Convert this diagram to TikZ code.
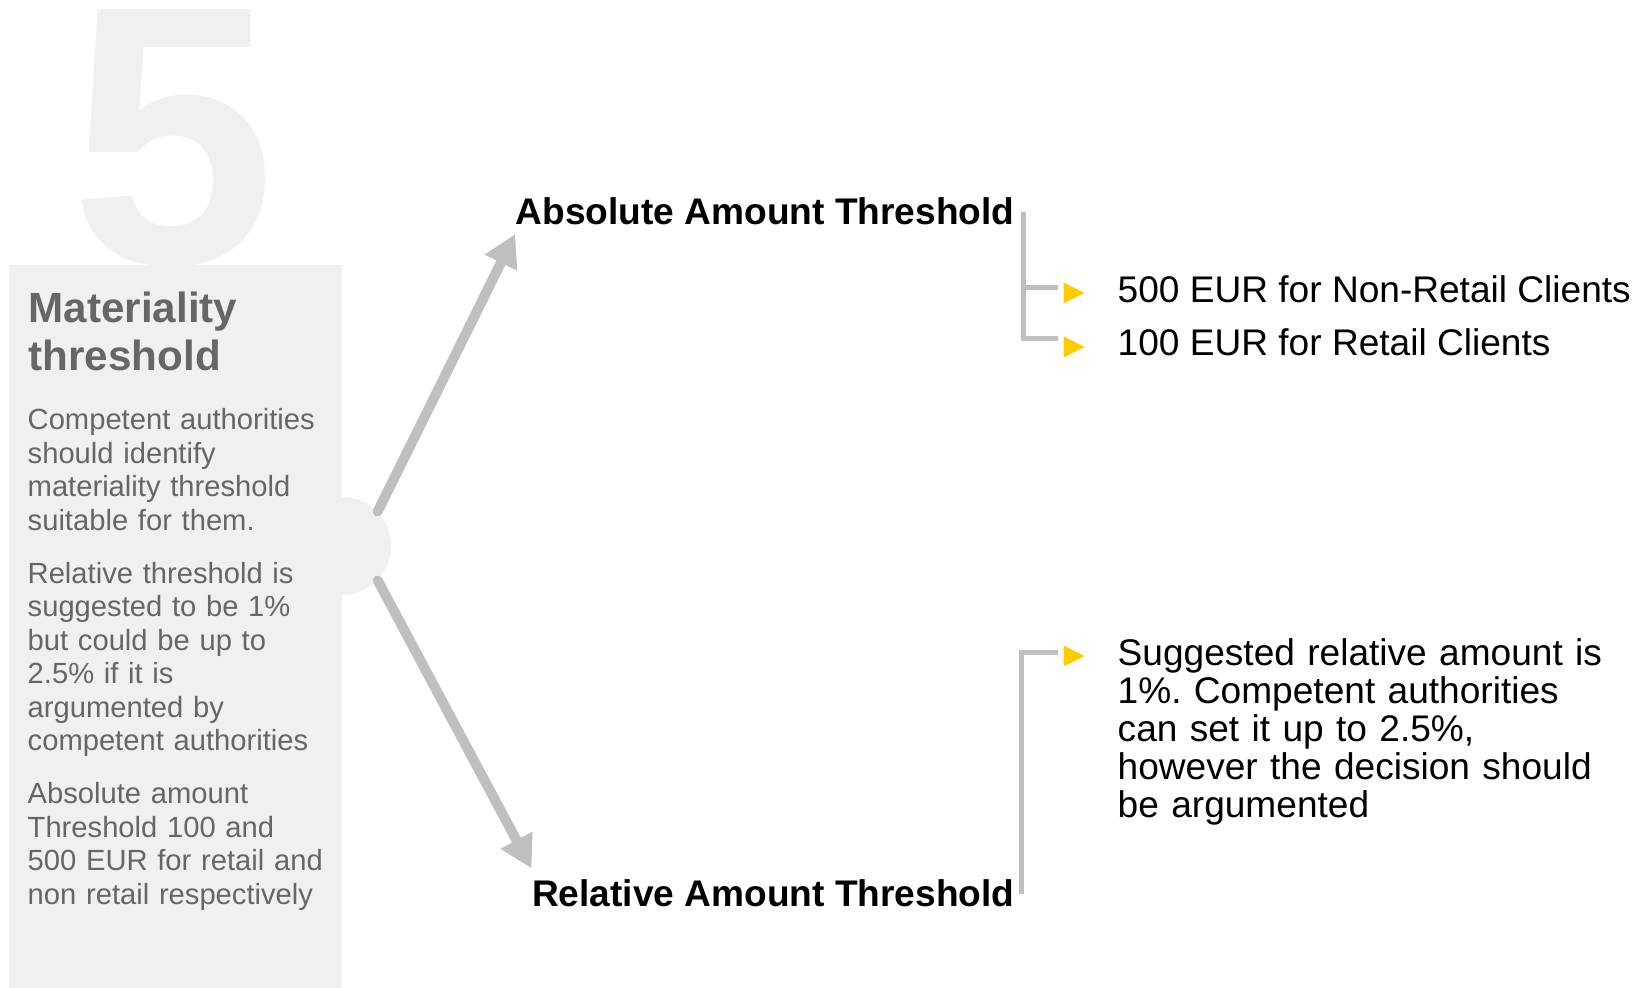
\documentclass[tikz,border=0pt]{standalone}
\usepackage{fontspec}
\setmainfont{Liberation Sans}
\usetikzlibrary{arrows.meta,shapes.geometric}
\definecolor{panelgray}{RGB}{240,240,240}
\definecolor{textgray}{RGB}{102,102,102}
\definecolor{linegray}{RGB}{191,191,191}
\definecolor{pointyellow}{RGB}{255,204,0}
\frenchspacing

\begin{document}
\begin{tikzpicture}[
  heading/.style={inner sep=0pt, font=\fontsize{10.55}{12.6}\selectfont\bfseries},
  item/.style={inner sep=0pt, anchor=base west, font=\fontsize{10.55}{10.8}\selectfont},
  pointer/.style={isosceles triangle, isosceles triangle stretches, fill=pointyellow,
        minimum width=0.21cm, minimum height=0.21cm, inner sep=0pt},
  link/.style={linegray, line width=0.05cm}]
  \useasboundingbox (0,0) rectangle (16.43,9.88);
  % Big number
  \node[anchor=north, inner sep=0pt, text=panelgray,
        font=\fontsize{105}{105}\selectfont\bfseries] (num) at (1.73,9.79) {5};
  % Side panel
  \fill[panelgray] (0.09,0) rectangle (3.42,7.23);
  \node[circle, fill=panelgray, minimum size=0.98cm, inner sep=0pt] (hub) at (3.42,4.42) {};
  \node[anchor=base west, inner sep=0pt, text width=3.2cm, align=left, text=textgray,
        font=\fontsize{12}{13.6}\selectfont\bfseries] (title) at (0.28,6.65) {Materiality\\threshold};
  \node[anchor=base west, inner sep=0pt, text width=3.3cm, align=left, text=textgray,
        font=\fontsize{8.3}{9.5}\selectfont] (notes) at (0.27,5.58)
        {Competent authorities\\should identify\\materiality threshold\\suitable for them.\\[0.2cm]
         Relative threshold is\\suggested to be 1\%\\but could be up to\\2.5\% if it is\\argumented by\\competent authorities\\[0.2cm]
         Absolute amount\\Threshold 100 and\\500 EUR for retail and\\non retail respectively};
  % Branch headings
  \node[heading, anchor=base east] (abs) at (10.15,7.63) {Absolute Amount Threshold};
  \node[heading, anchor=base east] (rel) at (10.15,0.81) {Relative Amount Threshold};
  % Arrows
  \draw[linegray, line width=0.1cm, line cap=round, -{Triangle[length=0.32cm,width=0.34cm]}]
    (hub.44) -- ([yshift=-0.08cm]abs.south west);
  \draw[linegray, line width=0.1cm, line cap=round, -{Triangle[length=0.32cm,width=0.34cm]}]
    (hub.-44) -- ([yshift=0.11cm]rel.north west);
  % Pointers
  \node[pointer] (p1) at (10.70,6.95) {};
  \node[pointer] (p2) at (10.70,6.41) {};
  \node[pointer] (p3) at (10.70,3.32) {};
  \coordinate (absrail) at ([xshift=0.08cm]abs.east);
  \draw[link] (absrail) |- ([xshift=-0.05cm,yshift=0.08cm]p2.west);
  \draw[link] ([xshift=-0.05cm,yshift=0.05cm]p1.west) -- ++(-0.33,0);
  \draw[link] ([xshift=0.06cm]rel.east) |- ([xshift=-0.05cm,yshift=0.03cm]p3.west);
  % Details
  \node[item] (nonretail) at (11.17,6.85) {500 EUR for Non-Retail Clients};
  \node[item] (retail) at (11.17,6.32) {100 EUR for Retail Clients};
  \node[item, text width=5.2cm, align=left] (relnote) at (11.17,3.22)
    {Suggested relative amount is\\1\%. Competent authorities\\can set it up to 2.5\%,\\however the decision should\\be argumented};
\end{tikzpicture}
\end{document}
